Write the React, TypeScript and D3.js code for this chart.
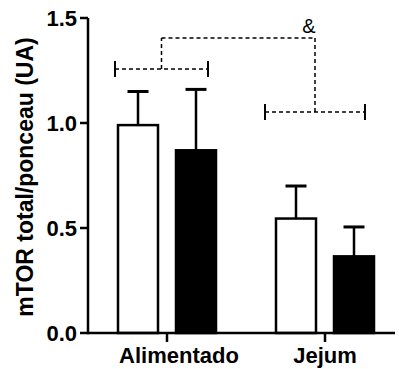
import React from 'react';
import * as d3 from 'd3';

const groups = ['Alimentado', 'Jejum'];
const series = ['white', 'black'];
const means: Record<string, number[]> = { white: [0.99, 0.545], black: [0.87, 0.365] };
const errors: Record<string, number[]> = { white: [0.16, 0.155], black: [0.29, 0.14] };
const yTicks = [0, 0.5, 1.0, 1.5];
const bracketLevels = [1.257, 1.052];
const topLevel = 1.405;

const W = 399;
const H = 369;
const font = 'Liberation Sans, Arial, sans-serif';

const App = () => {
  const x = d3.scaleBand().domain(groups).range([88, 404]);
  const sub = d3.scalePoint().domain(series).range([-29, 29]);
  const y = d3.scaleLinear().domain([0, 1.5]).range([333, 18]);
  const barW = 40;
  const center = (g: string) => (x(g) as number) + x.bandwidth() / 2;

  // bracket extents around each group centre
  const brOffsets = [[-52, 41], [-60, 40]];
  const mids = groups.map((g, i) => center(g) + (brOffsets[i][0] + brOffsets[i][1]) / 2);
  const labelShift = [12, 0];

  return (
    <div style={{ position: 'fixed', left: 0, top: 0 }}>
      <svg width={W} height={H} style={{ display: 'block' }}>
        <rect width={W} height={H} fill="#fff" />
        {/* bars */}
        {groups.map((g, gi) =>
          series.map((s) => {
            const cx = center(g) + (sub(s) as number);
            const v = means[s][gi];
            const e = errors[s][gi];
            return (
              <g key={g + s}>
                <line x1={cx} x2={cx} y1={y(v)} y2={y(v + e)} stroke="#000" strokeWidth={2.5} />
                <line x1={cx - 10.5} x2={cx + 10.5} y1={y(v + e)} y2={y(v + e)} stroke="#000" strokeWidth={3} />
                <rect
                  x={cx - barW / 2}
                  y={y(v)}
                  width={barW}
                  height={y(0) - y(v)}
                  fill={s === 'white' ? '#fff' : '#000'}
                  stroke="#000"
                  strokeWidth={2.5}
                />
              </g>
            );
          })
        )}
        {/* axes */}
        <line x1={88} x2={88} y1={y(1.5)} y2={y(0) + 1.25} stroke="#000" strokeWidth={2.5} />
        <line x1={88} x2={395} y1={y(0)} y2={y(0)} stroke="#000" strokeWidth={2.5} />
        {yTicks.map((t) => (
          <g key={t}>
            <line x1={80} x2={88} y1={y(t)} y2={y(t)} stroke="#000" strokeWidth={2.5} />
            <text x={77} y={y(t) + 8} textAnchor="end" fontFamily={font} fontWeight="bold" fontSize={22}>
              {t.toFixed(1)}
            </text>
          </g>
        ))}
        {groups.map((g, gi) => (
          <g key={g}>
            <line x1={center(g)} x2={center(g)} y1={y(0)} y2={y(0) + 9} stroke="#000" strokeWidth={2.5} />
            <text x={center(g) + labelShift[gi]} y={363} textAnchor="middle" fontFamily={font} fontWeight="bold" fontSize={22}>
              {g}
            </text>
          </g>
        ))}
        <text
          transform={`translate(33,${177}) rotate(-90)`}
          textAnchor="middle"
          fontFamily={font}
          fontWeight="bold"
          fontSize={23}
        >
          mTOR total/ponceau (UA)
        </text>
        {/* significance brackets */}
        {groups.map((g, gi) => {
          const yy = y(bracketLevels[gi]);
          const l = center(g) + brOffsets[gi][0];
          const r = center(g) + brOffsets[gi][1];
          return (
            <g key={'br' + g}>
              <line x1={l} x2={r} y1={yy} y2={yy} stroke="#000" strokeWidth={1.5} strokeDasharray="4,3" />
              <line x1={l} x2={l} y1={yy - 8} y2={yy + 8} stroke="#000" strokeWidth={2} />
              <line x1={r} x2={r} y1={yy - 8} y2={yy + 8} stroke="#000" strokeWidth={2} />
              <line x1={mids[gi]} x2={mids[gi]} y1={yy} y2={y(topLevel)} stroke="#000" strokeWidth={1.5} strokeDasharray="4,3" />
            </g>
          );
        })}
        <line x1={mids[0]} x2={mids[1]} y1={y(topLevel)} y2={y(topLevel)} stroke="#000" strokeWidth={1.5} strokeDasharray="4,3" />
        <text x={mids[1] - 6} y={33} textAnchor="middle" fontFamily={font} fontSize={20}>
          &amp;
        </text>
      </svg>
    </div>
  );
};

export default App;
